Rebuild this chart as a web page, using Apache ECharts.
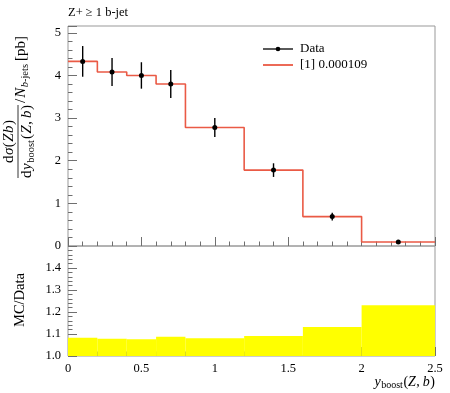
<!DOCTYPE html>
<html><head><meta charset="utf-8">
<script src="https://cdn.jsdelivr.net/npm/echarts@6/dist/echarts.min.js"></script>
<style>html,body{margin:0;padding:0;background:#fff}#c{width:450px;height:393px}</style>
</head><body><div id="c"></div>
<script>
// ---- data ----
const binEdges = [0, 0.2, 0.4, 0.6, 0.8, 1.2, 1.6, 2.0, 2.5];
const dataX = [0.1, 0.3, 0.5, 0.7, 1.0, 1.4, 1.8, 2.25];
const dataY = [4.33, 4.08, 4.00, 3.80, 2.78, 1.78, 0.69, 0.094];
const dataErr = [0.36, 0.33, 0.31, 0.33, 0.225, 0.16, 0.09, 0.022];
const mcY = [4.33, 4.08, 4.00, 3.80, 2.78, 1.78, 0.69, 0.094];
const ratioBandTop = [1.083, 1.078, 1.076, 1.087, 1.081, 1.091, 1.132, 1.231];
const titleText = 'Z+ \u2265 1 b-jet';
const legendData = 'Data';
const legendMC = '[1] 0.000109';

const FONT = '"Liberation Serif", "DejaVu Serif", serif';
const MC_COLOR = '#ea5a45';
const FRAME = '#999';
const TICK = '#6f6f6f';

const ctx = document.createElement('canvas').getContext('2d');
function fontStr(size, italic) { return (italic ? 'italic ' : '') + size + 'px ' + FONT; }
function measure(t, size, italic) { ctx.font = fontStr(size, italic); return ctx.measureText(t).width; }
function row(pieces, x0, y0, base) {
  let x = x0; const els = [];
  for (const p of pieces) {
    const size = p.s || base;
    els.push({ type: 'text', x: x, y: y0 + (p.dy || 0),
      style: { text: p.t, font: fontStr(size, p.i), fill: '#000', align: 'left', verticalAlign: 'middle' } });
    x += measure(p.t, size, p.i) + (p.g || 0);
  }
  return { els, width: x - x0 };
}
function rowWidth(pieces, base) { return pieces.reduce((a, p) => a + measure(p.t, p.s || base, p.i) + (p.g || 0), 0); }

// y-axis title (rotated fraction)
const YB = 15, YS = 10.5;
const denP = [{t:'d',g:0.5},{t:'y',i:1,g:0.5},{t:'boost',s:YS,dy:4,g:1},{t:'(',g:0.5},{t:'Z',i:1,g:0.5},{t:',',g:3},{t:'b',i:1,g:0.5},{t:')'}];
const numP = [{t:'d',g:0.5},{t:'\u03c3',i:1,g:0.5},{t:'(',g:0.5},{t:'Z',i:1,g:0.5},{t:'b',i:1,g:0.5},{t:')'}];
const restP = [{t:'/',g:1},{t:'N',i:1,g:0.5},{t:'b',s:YS,i:1,dy:4},{t:'-jets',s:YS,dy:4,g:3},{t:'[pb]'}];
const Wd = rowWidth(denP, YB), Wn = rowWidth(numP, YB);
const den = row(denP, 0, 27, YB);
const num = row(numP, Wd / 2 - Wn / 2, 9, YB);
const rest = row(restP, Wd + 2, 21, YB);
const yTitle = { type: 'group', x: 0, y: 178, rotation: Math.PI / 2,
  children: [...den.els, ...num.els, ...rest.els,
    { type: 'line', shape: { x1: 0, y1: 18, x2: Wd, y2: 18 }, style: { stroke: '#000', lineWidth: 0.8 } }] };

// x-axis title
const XB = 14;
const xtP = [{t:'y',i:1,g:0.5},{t:'boost',s:10,dy:3.5,g:0.5},{t:'('},{t:'Z',i:1,g:0.5},{t:',',g:3},{t:'b',i:1,g:0.5},{t:')'}];
const xt = row(xtP, 435 - rowWidth(xtP, XB), 382, XB);

const chart = echarts.init(document.getElementById('c'), null, { renderer: 'canvas' });

const xCommon = {
  type: 'value', min: 0, max: 2.5, interval: 0.5,
  splitLine: { show: false }, axisLine: { show: false },
  axisTick: { inside: true, length: 9, lineStyle: { color: TICK } },
  minorTick: { show: true, splitNumber: 5, length: 4.5, lineStyle: { color: TICK } }
};

const mcPts = binEdges.map((e, i) => [e, mcY[Math.min(i, mcY.length - 1)]]);

chart.setOption({
  animation: false,
  textStyle: { fontFamily: FONT },
  grid: [
    { left: 68, right: 15, top: 26, height: 220, show: true, borderColor: FRAME, borderWidth: 1, backgroundColor: 'transparent' },
    { left: 68, right: 15, top: 246, height: 110, show: true, borderColor: FRAME, borderWidth: 1, backgroundColor: 'transparent' }
  ],
  xAxis: [
    Object.assign({}, xCommon, { gridIndex: 0, axisLabel: { show: false } }),
    Object.assign({}, xCommon, { gridIndex: 1, axisLabel: { color: '#000', fontSize: 12.5, fontFamily: FONT, margin: 6 } })
  ],
  yAxis: [
    { type: 'value', gridIndex: 0, min: 0, max: 5.16, interval: 1,
      splitLine: { show: false }, axisLine: { show: false },
      axisTick: { inside: true, length: 9, lineStyle: { color: TICK } },
      minorTick: { show: true, splitNumber: 5, length: 4.5, lineStyle: { color: TICK } },
      axisLabel: { color: '#000', fontSize: 12.5, fontFamily: FONT, margin: 7, showMaxLabel: false } },
    { type: 'value', gridIndex: 1, min: 1.0, max: 1.5, interval: 0.1,
      splitLine: { show: false }, axisLine: { show: false },
      axisTick: { inside: true, length: 9, lineStyle: { color: TICK } },
      minorTick: { show: true, splitNumber: 5, length: 4.5, lineStyle: { color: TICK } },
      axisLabel: { color: '#000', fontSize: 12.5, fontFamily: FONT, margin: 7, showMaxLabel: false,
        formatter: v => v.toFixed(1) } }
  ],
  series: [
    { type: 'custom', xAxisIndex: 1, yAxisIndex: 1, clip: true, z: 1,
      data: ratioBandTop.map((t, i) => [binEdges[i], binEdges[i + 1], t]),
      renderItem: (params, api) => {
        const p1 = api.coord([api.value(0), api.value(2)]);
        const p2 = api.coord([api.value(1), 2 - api.value(2)]);
        return { type: 'rect', shape: { x: p1[0], y: p1[1], width: p2[0] - p1[0], height: p2[1] - p1[1] },
          style: { fill: '#ffff00' } };
      } },
    { type: 'line', xAxisIndex: 0, yAxisIndex: 0, step: 'end', data: mcPts, showSymbol: false, symbol: 'none',
      lineStyle: { color: MC_COLOR, width: 1.6 }, z: 3, silent: true },
    { type: 'custom', xAxisIndex: 0, yAxisIndex: 0, z: 4,
      data: dataX.map((x, i) => [x, dataY[i], dataErr[i]]),
      renderItem: (params, api) => {
        const x = api.value(0), y = api.value(1), e = api.value(2);
        const c = api.coord([x, y]), lo = api.coord([x, y - e]), hi = api.coord([x, y + e]);
        return { type: 'group', children: [
          { type: 'line', shape: { x1: c[0], y1: lo[1], x2: c[0], y2: hi[1] }, style: { stroke: '#000', lineWidth: 1.4 } },
          { type: 'circle', shape: { cx: c[0], cy: c[1], r: 2.5 }, style: { fill: '#000' } }
        ] };
      } }
  ],
  graphic: [
    { type: 'text', x: 68, y: 13, style: { text: titleText, font: fontStr(12.5, false), fill: '#000', align: 'left', verticalAlign: 'middle' } },
    yTitle,
    { type: 'text', x: 20, y: 300, rotation: Math.PI / 2,
      style: { text: 'MC/Data', font: fontStr(14.5, false), fill: '#000', align: 'center', verticalAlign: 'middle' } },
    ...xt.els,
    { type: 'line', shape: { x1: 263, y1: 49, x2: 293, y2: 49 }, style: { stroke: '#000', lineWidth: 1.3 } },
    { type: 'circle', shape: { cx: 278, cy: 49, r: 2.3 }, style: { fill: '#000' } },
    { type: 'text', x: 300, y: 49, style: { text: legendData, font: fontStr(13, false), fill: '#000', align: 'left', verticalAlign: 'middle' } },
    { type: 'line', shape: { x1: 263, y1: 65, x2: 293, y2: 65 }, style: { stroke: MC_COLOR, lineWidth: 1.8 } },
    { type: 'text', x: 300, y: 65, style: { text: legendMC, font: fontStr(13, false), fill: '#000', align: 'left', verticalAlign: 'middle' } }
  ]
});
</script></body></html>
